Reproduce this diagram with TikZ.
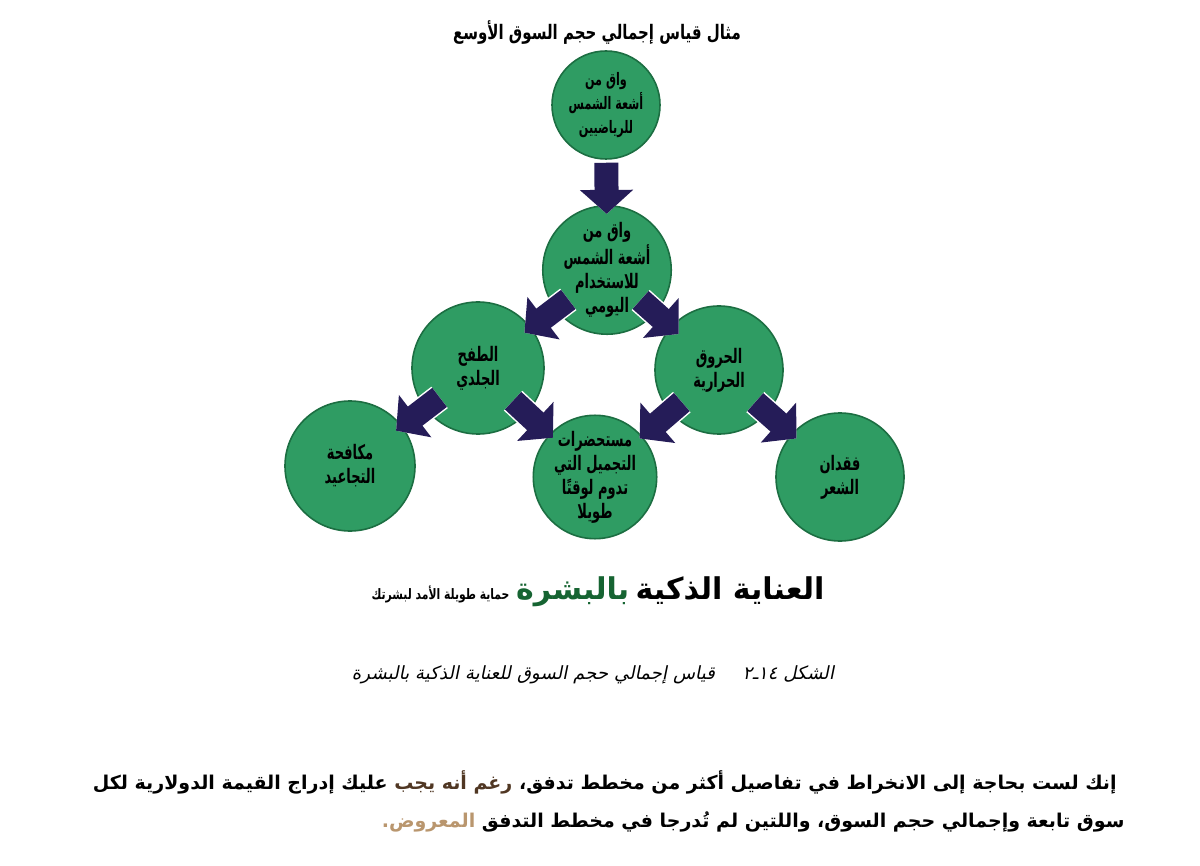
\documentclass[tikz,border=0pt]{standalone}
\usepackage{fontspec}
\usepackage{xcolor}
\usetikzlibrary{positioning, arrows.meta, calc}
\TeXXeTstate=1
\newfontfamily\arabicfont[Script=Arabic]{DejaVu Sans}
\newfontfamily\arabiccond[Script=Arabic, FakeStretch=0.75]{DejaVu Sans}
\newfontfamily\arabicnarrow[Script=Arabic, FakeStretch=0.65]{DejaVu Sans}
\newfontfamily\arabicslant[Script=Arabic, FakeSlant=0.2]{DejaVu Sans}
\newcommand{\ar}[1]{\mbox{\beginR #1\endR}}
\definecolor{cG}{RGB}{47,156,99}
\definecolor{cGD}{RGB}{28,110,66}
\definecolor{cA}{RGB}{37,28,88}
\definecolor{cH}{RGB}{22,100,50}
\definecolor{cB}{RGB}{80,55,35}
\definecolor{cT}{RGB}{185,150,110}

\begin{document}
\begin{tikzpicture}[x=0.5pt, y=-0.5pt,
    ball/.style={circle, fill=cG, draw=cGD, line width=0.8pt, inner sep=0pt, align=center,
        font=\arabicnarrow\bfseries\fontsize{10}{12}\selectfont},
    flow/.style={line width=12pt, draw=cA, -{Triangle[width=26pt, length=12pt]},
        preaction={draw=white, line width=13.5pt, -{Triangle[width=29pt, length=13.5pt]}}}]
    \useasboundingbox (0,0) rectangle (1200,866);

    \node (title) at (597,33) {\arabiccond\bfseries\fontsize{10}{13}\selectfont\ar{مثال قياس إجمالي حجم السوق الأوسع}};

    \node[ball, minimum size=54pt, font=\arabicnarrow\bfseries\fontsize{8.6}{12}\selectfont] (T) at (606,105) {\ar{واق من}\\\ar{أشعة الشمس}\\\ar{للرياضيين}};
    \node[ball, minimum size=63pt] (M) at (607,270) {\ar{واق من}\\\ar{أشعة الشمس}\\\ar{للاستخدام}\\\ar{اليومي}};
    \node[ball, minimum size=66pt] (L) at (478,368) {\ar{الطفح}\\\ar{الجلدي}};
    \node[ball, minimum size=64pt] (R) at (719,370) {\ar{الحروق}\\\ar{الحرارية}};
    \node[ball, minimum size=65pt] (BL) at (350,466) {\ar{مكافحة}\\\ar{التجاعيد}};
    \node[ball, minimum size=60pt] (BM) at (595,477) {\ar{مستحضرات}\\\ar{التجميل التي}\\\ar{تدوم لوقتًا}\\\ar{طويلا}};
    \node[ball, minimum size=64pt] (BR) at (840,477) {\ar{فقدان}\\\ar{الشعر}};

    \draw[flow] ($(T)!0.35!(M)$) -- ($(T)!0.66!(M)$);
    \foreach \a/\b in {M/L, M/R, L/BL, L/BM, R/BM, R/BR}
        \draw[flow] ($(\a)!0.30!(\b)$) -- ($(\a)!0.64!(\b)$);

    \node (head) at (598,592) {\ar{\arabiccond\bfseries\fontsize{7.2}{10}\selectfont حماية طويلة الأمد لبشرتك}
        {\color{cH}\ar{\arabicfont\bfseries\fontsize{15}{18}\selectfont بالبشرة}}
        \ar{\arabicfont\bfseries\fontsize{15}{18}\selectfont العناية الذكية}};

    \node (caption) at (593,675) {\arabicslant\fontsize{9.1}{12}\selectfont\ar{الشكل ١٤ـ٢\hspace{14pt}قياس إجمالي حجم السوق للعناية الذكية بالبشرة}};

    \node[anchor=east, inner sep=0pt] (p1) at (1117,782) {\arabicfont\bfseries\fontsize{9.5}{13}\selectfont
        \ar{عليك إدراج القيمة الدولارية لكل} {\color{cB}\ar{رغم أنه يجب}} \ar{إنك لست بحاجة إلى الانخراط في تفاصيل أكثر من مخطط تدفق،}};
    \node[anchor=east, inner sep=0pt] (p2) at (1125,822) {\arabicfont\bfseries\fontsize{9.5}{13}\selectfont
        {\color{cT}\ar{المعروض.}} \ar{سوق تابعة وإجمالي حجم السوق، واللتين لم تُدرجا في مخطط التدفق}};
\end{tikzpicture}
\end{document}
